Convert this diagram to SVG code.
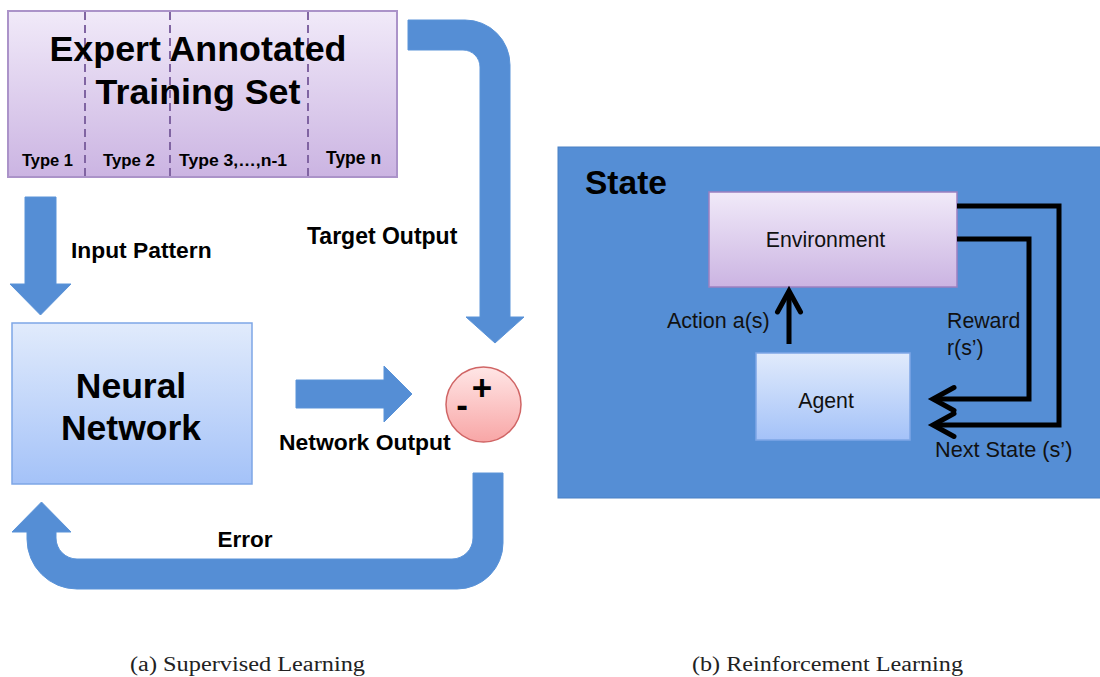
<svg xmlns="http://www.w3.org/2000/svg" width="1100" height="677" viewBox="0 0 1100 677">
  <style>
    .bold { font-family: "Liberation Sans", Arial, sans-serif; font-weight: bold; fill: #000; }
    .reg { font-family: "Liberation Sans", Arial, sans-serif; fill: #111; }
    .cap { font-family: "Liberation Serif", "Times New Roman", serif; font-size: 20px; fill: #222; }
    .flow { fill: #558ed5; stroke: #5a93d8; stroke-width: 1; }
    .wire { fill: none; stroke: #000; stroke-width: 5; stroke-linejoin: miter; }
  </style>
  <defs>
    <linearGradient id="gPurple" x1="0" y1="0" x2="0" y2="1">
      <stop offset="0" stop-color="#f1eaf9"/>
      <stop offset="1" stop-color="#cbb4e2"/>
    </linearGradient>
    <linearGradient id="gBlue" x1="0" y1="0" x2="0" y2="1">
      <stop offset="0" stop-color="#e1ebfc"/>
      <stop offset="1" stop-color="#a4c2f8"/>
    </linearGradient>
    <linearGradient id="gRed" x1="0" y1="0" x2="0" y2="1">
      <stop offset="0" stop-color="#ffe6e6"/>
      <stop offset="1" stop-color="#f8a6a6"/>
    </linearGradient>
    <marker id="chev" markerUnits="userSpaceOnUse" viewBox="-26 -16 32 32" refX="0" refY="0" markerWidth="32" markerHeight="32" orient="auto">
      <path d="M -21 -11.5 L 0 0 L -21 11.5" fill="none" stroke="#000" stroke-width="5" stroke-linecap="round" stroke-linejoin="miter"/>
    </marker>
  </defs>

  <rect width="1100" height="677" fill="#fff"/>

  <!-- (a) supervised learning -->
  <g id="training-set">
    <rect x="8" y="11" width="389" height="166" fill="url(#gPurple)" stroke="#ab93c9" stroke-width="2"/>
    <g stroke="#8064a2" stroke-width="2" stroke-dasharray="8 5">
      <line x1="85" y1="12" x2="85" y2="176"/>
      <line x1="170" y1="12" x2="170" y2="176"/>
      <line x1="308" y1="12" x2="308" y2="176"/>
    </g>
    <text class="bold" x="198" y="61" font-size="35.8" text-anchor="middle">Expert Annotated</text>
    <text class="bold" x="198" y="104" font-size="35.8" text-anchor="middle">Training Set</text>
    <text class="bold" x="22" y="166" font-size="16.5">Type 1</text>
    <text class="bold" x="103" y="166" font-size="16.8">Type 2</text>
    <text class="bold" x="179" y="166" font-size="16.8" textLength="108" lengthAdjust="spacingAndGlyphs">Type 3,…,n-1</text>
    <text class="bold" x="326" y="164" font-size="17.5">Type n</text>
  </g>

  <g id="neural-network">
    <rect x="12" y="323" width="240" height="161" fill="url(#gBlue)" stroke="#7ea6e6" stroke-width="1.5"/>
    <text class="bold" x="131" y="398" font-size="35.5" text-anchor="middle">Neural</text>
    <text class="bold" x="131" y="440" font-size="35.5" text-anchor="middle">Network</text>
  </g>

  <g id="comparator">
    <circle cx="483.5" cy="404.5" r="37.5" fill="url(#gRed)" stroke="#d06565" stroke-width="1.5"/>
    <text class="bold" x="482" y="400" font-size="35" text-anchor="middle">+</text>
    <text class="bold" x="462" y="417" font-size="35" text-anchor="middle">-</text>
  </g>

  <g id="connectors-a">
    <!-- input pattern -->
    <path class="flow" d="M25 197 H56 V284 H71 L40.5 315 L10 284 H25 Z"/>
    <!-- target output -->
    <path class="flow" d="M408 20 H465 A45 45 0 0 1 510 65 V317 H524 L495 343 L466 317 H480 V67 A17 17 0 0 0 463 50 H408 Z"/>
    <!-- network output -->
    <path class="flow" d="M296 380 H384 V366 L412 394 L384 422 V408 H296 Z"/>
    <!-- error feedback -->
    <path class="flow" d="M473 473 H503 V543 A46 46 0 0 1 457 589 H77 A50 50 0 0 1 27 539 V532 H12 L41.5 502 L71 532 H56 V538 A21 21 0 0 0 77 559 H452 A21 21 0 0 0 473 538 Z"/>
  </g>

  <g id="labels-a">
    <text class="bold" x="71" y="258" font-size="22.8">Input Pattern</text>
    <text class="bold" x="307" y="244" font-size="23">Target Output</text>
    <text class="bold" x="279" y="450" font-size="22.9">Network Output</text>
    <text class="bold" x="245" y="547" font-size="22.5" text-anchor="middle">Error</text>
  </g>

  <!-- (b) reinforcement learning -->
  <g id="state">
    <rect x="558" y="147" width="545" height="351" fill="#558ed5" stroke="#4a80c4" stroke-width="1"/>
    <text class="bold" x="585" y="194" font-size="33.5">State</text>
  </g>

  <g id="environment">
    <rect x="709" y="192" width="248" height="95" fill="url(#gPurple)" stroke="#9c80c0" stroke-width="1.5"/>
    <text class="reg" x="825.5" y="247" font-size="21.3" text-anchor="middle">Environment</text>
  </g>

  <g id="agent">
    <rect x="756" y="353" width="154" height="87" fill="url(#gBlue)" stroke="#7ea6e6" stroke-width="1.5"/>
    <text class="reg" x="826" y="408" font-size="21.3" text-anchor="middle">Agent</text>
  </g>

  <g id="connectors-b">
    <path class="wire" d="M789 344 V291" marker-end="url(#chev)"/>
    <path class="wire" d="M957 239 H1029 V399 H933" marker-end="url(#chev)"/>
    <path class="wire" d="M957 206 H1059 V425 H933" marker-end="url(#chev)"/>
  </g>

  <g id="labels-b">
    <text class="reg" x="667" y="328" font-size="21.5">Action a(s)</text>
    <text class="reg" x="947" y="328" font-size="21.3">Reward</text>
    <text class="reg" x="947" y="355" font-size="21.3">r(s’)</text>
    <text class="reg" x="935" y="457" font-size="21.7">Next State (s’)</text>
  </g>

  <g id="captions">
    <text class="cap" x="130" y="671" textLength="235" lengthAdjust="spacingAndGlyphs">(a) Supervised Learning</text>
    <text class="cap" x="692" y="671" textLength="271" lengthAdjust="spacingAndGlyphs">(b) Reinforcement Learning</text>
  </g>
</svg>
